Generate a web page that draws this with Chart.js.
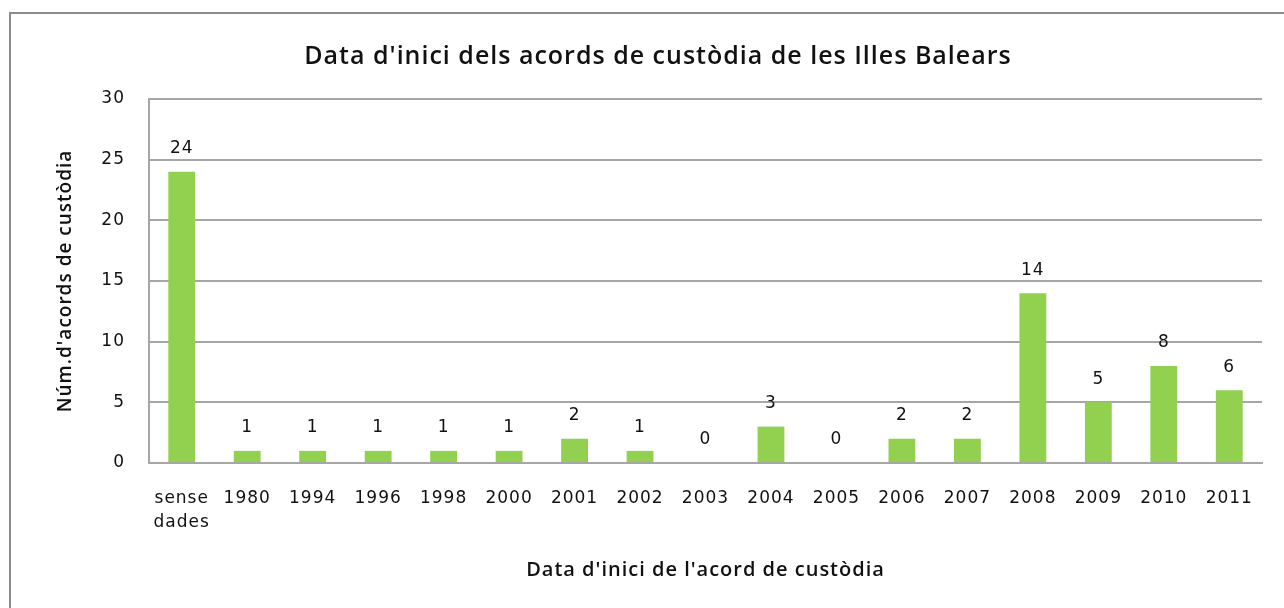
<!DOCTYPE html>
<html lang="ca">
<head>
    <meta charset="UTF-8">
    <title>Data d'inici dels acords de custòdia</title>
    <style>
        html, body {
            margin: 0;
            padding: 0;
            background-color: white;
            overflow: hidden;
        }
        .frame {
            position: absolute;
            left: 9px;
            top: 12px;
            width: 1300px;
            height: 620px;
            border: 2px solid #8c8c8c;
        }
        #chart {
            position: absolute;
            left: 0;
            top: 0;
        }
    </style>
    <script src="https://cdn.jsdelivr.net/npm/chart.js"></script>
</head>
<body>

<div class="frame"></div>
<canvas id="chart" width="1284" height="608"></canvas>

<script>
    // dades llegides del gràfic
    const categories = [['sense', 'dades'], '1980', '1994', '1996', '1998', '2000', '2001', '2002',
        '2003', '2004', '2005', '2006', '2007', '2008', '2009', '2010', '2011'];
    const acords = [24, 1, 1, 1, 1, 1, 2, 1, 0, 3, 0, 2, 2, 14, 5, 8, 6];
    const yTicks = [0, 5, 10, 15, 20, 25, 30];

    const tickFont = { family: 'DejaVu Sans', size: 17 };

    // el text original és força espaiat
    const spacing = {
        id: 'spacing',
        beforeDraw(chart) {
            chart.ctx.letterSpacing = '1px';
        }
    };

    // etiquetes de valor damunt de cada barra
    const valueLabels = {
        id: 'valueLabels',
        afterDatasetsDraw(chart) {
            const ctx = chart.ctx;
            const meta = chart.getDatasetMeta(0);
            ctx.save();
            ctx.font = '17px "DejaVu Sans"';
            ctx.fillStyle = '#111';
            ctx.textAlign = 'center';
            ctx.textBaseline = 'middle';
            meta.data.forEach((bar, i) => {
                ctx.fillText(String(acords[i]), bar.x, bar.y - 23);
            });
            ctx.restore();
        }
    };

    const ctx = document.getElementById('chart').getContext('2d');
    new Chart(ctx, {
        type: 'bar',
        data: {
            labels: categories,
            datasets: [{
                data: acords,
                backgroundColor: '#92d050',
                borderWidth: 0,
                categoryPercentage: 1,
                barPercentage: 0.41
            }]
        },
        options: {
            responsive: false,
            animation: false,
            layout: {
                padding: { left: 54, right: 22, top: 0, bottom: 26 }
            },
            plugins: {
                legend: { display: false },
                tooltip: { enabled: false },
                title: {
                    display: true,
                    text: "Data d'inici dels acords de custòdia de les Illes Balears",
                    color: '#111',
                    font: { family: 'Open Sans', size: 25, weight: '600', lineHeight: 1.2 },
                    padding: { top: 42, bottom: 27 }
                }
            },
            scales: {
                x: {
                    grid: { display: false, drawTicks: false },
                    border: { display: true, color: '#a6a6a6', width: 2 },
                    ticks: {
                        color: '#111',
                        font: Object.assign({ lineHeight: 1.4 }, tickFont),
                        padding: 24,
                        maxRotation: 0,
                        autoSkip: false
                    },
                    title: {
                        display: true,
                        text: "Data d'inici de l'acord de custòdia",
                        color: '#111',
                        font: { family: 'Open Sans', size: 20, weight: '600', lineHeight: 1.2 },
                        padding: 0
                    },
                    afterFit(scale) { scale.height = 119; }
                },
                y: {
                    min: 0,
                    max: 30,
                    grid: { color: '#a6a6a6', lineWidth: 2, drawTicks: false },
                    border: { display: true, color: '#a6a6a6', width: 2 },
                    afterBuildTicks(scale) {
                        scale.ticks = yTicks.map(v => ({ value: v }));
                    },
                    ticks: {
                        color: '#111',
                        font: tickFont,
                        padding: 24
                    },
                    title: {
                        display: true,
                        text: "Núm.d'acords de custòdia",
                        color: '#111',
                        font: { family: 'Open Sans', size: 19, weight: '600', lineHeight: 1.2 },
                        padding: 0
                    },
                    afterFit(scale) { scale.width = 95; }
                }
            }
        },
        plugins: [spacing, valueLabels]
    });
</script>

</body>
</html>
